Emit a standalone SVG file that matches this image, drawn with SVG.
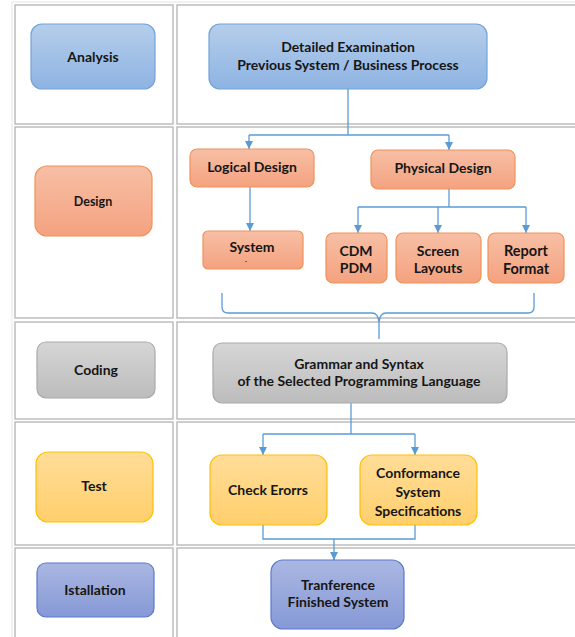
<svg xmlns="http://www.w3.org/2000/svg" width="575" height="637" viewBox="0 0 575 637">
<defs>
<linearGradient id="gBlue" x1="0" y1="0" x2="0" y2="1"><stop offset="0" stop-color="#b5ceeb"/><stop offset="1" stop-color="#8eb3e2"/></linearGradient>
<linearGradient id="gOrange" x1="0" y1="0" x2="0" y2="1"><stop offset="0" stop-color="#f7bfa5"/><stop offset="1" stop-color="#f4a27f"/></linearGradient>
<linearGradient id="gGray" x1="0" y1="0" x2="0" y2="1"><stop offset="0" stop-color="#d6d6d6"/><stop offset="1" stop-color="#bcbcbc"/></linearGradient>
<linearGradient id="gYellow" x1="0" y1="0" x2="0" y2="1"><stop offset="0" stop-color="#ffdd98"/><stop offset="1" stop-color="#ffcf6c"/></linearGradient>
<linearGradient id="gPurple" x1="0" y1="0" x2="0" y2="1"><stop offset="0" stop-color="#aab7e2"/><stop offset="1" stop-color="#8699d6"/></linearGradient>
<marker id="arr" viewBox="0 0 10 10" refX="10" refY="5" markerWidth="8" markerHeight="8" markerUnits="userSpaceOnUse" orient="auto">
<path d="M0,0 L10,5 L0,10 Z" fill="#5b9bd5"/>
</marker>
</defs>
<style>
.cell{fill:#ffffff;stroke:#b3b3b3;stroke-width:1.3}
.blue{fill:url(#gBlue);stroke:#72a3d9;stroke-width:1.2}
.orange{fill:url(#gOrange);stroke:#f0925a;stroke-width:1.2}
.gray{fill:url(#gGray);stroke:#a9a9a9;stroke-width:1.2}
.yellow{fill:url(#gYellow);stroke:#ffc000;stroke-width:1.2}
.purple{fill:url(#gPurple);stroke:#5a78cf;stroke-width:1.2}
text{font-family:Lato,"Liberation Sans",sans-serif;font-weight:bold;font-size:14px;fill:#161616;text-anchor:middle;dominant-baseline:central}
.conn{fill:none;stroke:#5b9bd5;stroke-width:1.3}
</style>
<rect x="0" y="0" width="575" height="637" fill="#ffffff"/>
<rect x="12" y="2" width="570" height="640" fill="none" stroke="#e6e6e6" stroke-width="1"/>
<g id="grid">
<rect class="cell" x="15" y="5" width="158" height="119"/>
<rect class="cell" x="177" y="5" width="410" height="119"/>
<rect class="cell" x="15" y="127" width="158" height="191"/>
<rect class="cell" x="177" y="127" width="410" height="191"/>
<rect class="cell" x="15" y="322" width="158" height="97"/>
<rect class="cell" x="177" y="322" width="410" height="97"/>
<rect class="cell" x="15" y="422" width="158" height="123"/>
<rect class="cell" x="177" y="422" width="410" height="123"/>
<rect class="cell" x="15" y="548" width="158" height="96"/>
<rect class="cell" x="177" y="548" width="410" height="96"/>
</g>
<g id="connectors">
<path class="conn" d="M348,89 V135 M249,135 H449"/>
<path class="conn" d="M249,135 V149" marker-end="url(#arr)"/>
<path class="conn" d="M449,135 V150" marker-end="url(#arr)"/>
<path class="conn" d="M250,187 V231" marker-end="url(#arr)"/>
<path class="conn" d="M449,189 V207 M358,207 H526"/>
<path class="conn" d="M358,207 V233" marker-end="url(#arr)"/>
<path class="conn" d="M438,207 V233" marker-end="url(#arr)"/>
<path class="conn" d="M526,207 V233" marker-end="url(#arr)"/>
<path class="conn" d="M222,293 V307 Q222,313 228,313 H372 Q378,313 379,322 Q380,313 386,313 H528 Q534,313 534,307 V293 M379,322 V339"/>
<path class="conn" d="M351,403 V434 M263,434 H415"/>
<path class="conn" d="M263,434 V455" marker-end="url(#arr)"/>
<path class="conn" d="M415,434 V455" marker-end="url(#arr)"/>
<path class="conn" d="M263,525 V539 H415 V525 M334,539 V560"/>
<path class="conn" d="M334,552 V560" marker-end="url(#arr)"/>
</g>
<g id="analysis"><rect class="blue" x="31" y="24" width="124" height="65" rx="11"/><text x="93" y="56">Analysis</text></g>
<g id="detailed"><rect class="blue" x="209" y="24" width="278" height="65" rx="11"/><text x="348" y="46">Detailed Examination</text><text x="348" y="64">Previous System / Business Process</text></g>
<g id="design"><rect class="orange" x="35" y="166" width="117" height="70" rx="12"/><text x="93" y="201" style="font-size:12.5px">Design</text></g>
<g id="logical"><rect class="orange" x="190" y="149" width="124" height="38" rx="7"/><text x="252" y="166">Logical Design</text></g>
<g id="system"><rect class="orange" x="203" y="231" width="100" height="38" rx="5"/><text x="252" y="246">System</text><text x="246" y="259" style="font-size:8px">.</text></g>
<g id="physical"><rect class="orange" x="371" y="150" width="144" height="39" rx="7"/><text x="443" y="167">Physical Design</text></g>
<g id="cdm"><rect class="orange" x="326" y="233" width="61" height="50" rx="7"/><text x="356" y="250">CDM</text><text x="356" y="267">PDM</text></g>
<g id="screen"><rect class="orange" x="396" y="233" width="85" height="50" rx="7"/><text x="438" y="250">Screen</text><text x="438" y="267">Layouts</text></g>
<g id="report"><rect class="orange" x="488" y="233" width="76" height="50" rx="7"/><text x="526" y="250" style="font-size:14.5px">Report</text><text x="526" y="268" style="font-size:14.5px">Format</text></g>
<g id="coding"><rect class="gray" x="37" y="342" width="118" height="56" rx="9"/><text x="96" y="369">Coding</text></g>
<g id="grammar"><rect class="gray" x="213" y="343" width="294" height="60" rx="9"/><text x="359" y="363">Grammar and Syntax</text><text x="359" y="380">of the Selected Programming Language</text></g>
<g id="test"><rect class="yellow" x="36" y="452" width="117" height="70" rx="12"/><text x="94" y="485">Test</text></g>
<g id="check"><rect class="yellow" x="210" y="455" width="117" height="70" rx="12"/><text x="268" y="489">Check Erorrs</text></g>
<g id="conformance"><rect class="yellow" x="360" y="455" width="117" height="70" rx="12"/><text x="418" y="472">Conformance</text><text x="418" y="491">System</text><text x="418" y="510">Specifications</text></g>
<g id="istallation"><rect class="purple" x="37" y="563" width="117" height="54" rx="9"/><text x="95" y="589">Istallation</text></g>
<g id="tranference"><rect class="purple" x="271" y="560" width="133" height="69" rx="12"/><text x="338" y="584">Tranference</text><text x="338" y="601">Finished System</text></g>
</svg>
